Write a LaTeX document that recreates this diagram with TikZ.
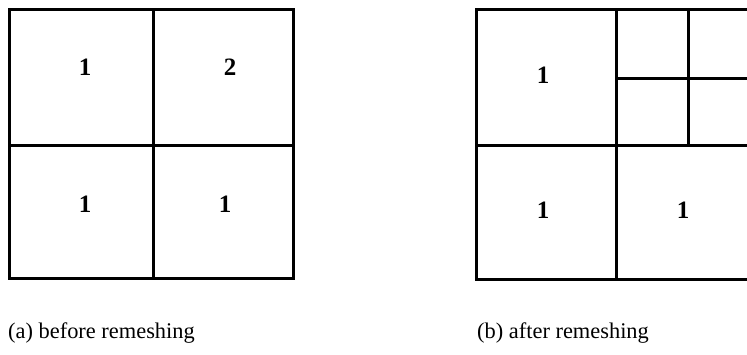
\documentclass[tikz,border=0pt]{standalone}
\usepackage{fontspec}
\setmainfont{Liberation Serif}
\begin{document}
\begin{tikzpicture}[x=1pt,y=-1pt,
  gridline/.style={line width=3pt,line cap=rect},
  num/.style={font=\fontsize{25}{28}\selectfont\bfseries},
  captext/.style={font=\fontsize{22.4}{26}\selectfont,anchor=base west,inner sep=0pt}]
\useasboundingbox (0,0) rectangle (747,354);
\clip (0,0) rectangle (747,354);
% left grid
\draw[gridline] (9,9) rectangle (293,278);
\draw[gridline] (153,9) -- (153,278);
\draw[gridline] (9,145) -- (293,145);
% right grid
\draw[gridline] (476,9) -- (760,9);
\draw[gridline] (476,279) -- (760,279);
\draw[gridline] (476,9) -- (476,279);
\draw[gridline] (616,9) -- (616,279);
\draw[gridline] (476,145) -- (760,145);
\draw[gridline] (688,9) -- (688,145);
\draw[gridline] (616,78) -- (760,78);
% numbers
\node[num] (a11) at (85,67) {1};
\node[num] (a12) at (230,67) {2};
\node[num] (a21) at (85,204) {1};
\node[num] (a22) at (225,204) {1};
\node[num] (b11) at (543,75) {1};
\node[num] (b21) at (543,210) {1};
\node[num] (b22) at (683,210) {1};
% captions
\node[captext] (ca) at (8,338) {(a) before remeshing};
\node[captext] (cb) at (477,338) {(b) after remeshing};
\end{tikzpicture}
\end{document}
